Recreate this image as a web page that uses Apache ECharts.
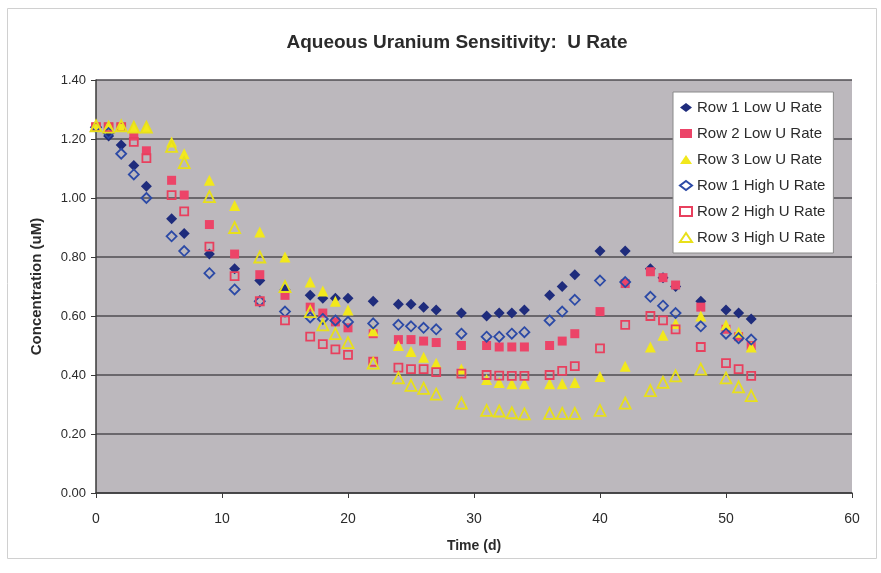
<!DOCTYPE html>
<html>
<head>
<meta charset="utf-8">
<script src="https://cdn.jsdelivr.net/npm/echarts@6/dist/echarts.min.js"></script>
<style>
  html, body { margin: 0; padding: 0; background: #ffffff; }
  #chart { width: 881px; height: 573px; }
</style>
</head>
<body>
<div id="chart"></div>
<script>
// Sampling days (d)
var days = [0, 1, 2, 3, 4, 6, 7, 9, 11, 13, 15, 17, 18, 19, 20, 22, 24, 25, 26, 27,
            29, 31, 32, 33, 34, 36, 37, 38, 40, 42, 44, 45, 46, 48, 50, 51, 52];

// Aqueous uranium concentration (uM) per monitoring row
var row1Low  = [1.24, 1.21, 1.18, 1.11, 1.04, 0.93, 0.88, 0.81, 0.76, 0.72, 0.69, 0.67, 0.66, 0.66, 0.66, 0.65, 0.64, 0.64, 0.63, 0.62,
                0.61, 0.60, 0.61, 0.61, 0.62, 0.67, 0.70, 0.74, 0.82, 0.82, 0.76, 0.73, 0.70, 0.65, 0.62, 0.61, 0.59];
var row2Low  = [1.24, 1.24, 1.24, 1.21, 1.16, 1.06, 1.01, 0.91, 0.81, 0.74, 0.67, 0.63, 0.61, 0.58, 0.56, 0.54, 0.52, 0.52, 0.515, 0.51,
                0.50, 0.50, 0.495, 0.495, 0.495, 0.50, 0.515, 0.54, 0.615, 0.71, 0.75, 0.73, 0.705, 0.63, 0.555, 0.53, 0.50];
var row3Low  = [1.245, 1.245, 1.245, 1.24, 1.24, 1.19, 1.15, 1.06, 0.975, 0.885, 0.80, 0.715, 0.685, 0.65, 0.62, 0.55, 0.50, 0.48, 0.46, 0.44,
                0.42, 0.385, 0.375, 0.37, 0.37, 0.37, 0.37, 0.375, 0.395, 0.43, 0.495, 0.535, 0.575, 0.60, 0.57, 0.545, 0.495];
var row1High = [1.24, 1.22, 1.15, 1.08, 1.00, 0.87, 0.82, 0.745, 0.69, 0.65, 0.615, 0.595, 0.59, 0.585, 0.58, 0.575, 0.57, 0.565, 0.56, 0.555,
                0.54, 0.53, 0.53, 0.54, 0.545, 0.585, 0.615, 0.655, 0.72, 0.715, 0.665, 0.635, 0.61, 0.565, 0.54, 0.525, 0.52];
var row2High = [1.24, 1.24, 1.24, 1.19, 1.135, 1.01, 0.955, 0.835, 0.735, 0.65, 0.585, 0.53, 0.505, 0.487, 0.468, 0.445, 0.425, 0.42, 0.42, 0.41,
                0.405, 0.40, 0.398, 0.397, 0.397, 0.40, 0.414, 0.43, 0.49, 0.57, 0.60, 0.585, 0.555, 0.495, 0.44, 0.42, 0.397];
var row3High = [1.245, 1.24, 1.245, 1.24, 1.24, 1.175, 1.12, 1.005, 0.90, 0.80, 0.70, 0.615, 0.57, 0.54, 0.51, 0.44, 0.39, 0.365, 0.355, 0.335,
                0.305, 0.28, 0.278, 0.272, 0.268, 0.27, 0.27, 0.27, 0.28, 0.305, 0.347, 0.375, 0.397, 0.42, 0.39, 0.36, 0.33];

var seriesNames = ['Row 1 Low U Rate', 'Row 2 Low U Rate', 'Row 3 Low U Rate',
                   'Row 1 High U Rate', 'Row 2 High U Rate', 'Row 3 High U Rate'];

function pairs(vals) {
  return days.map(function (d, i) { return [d, vals[i]]; });
}

var FONT = 'Liberation Sans, Arial, sans-serif';

function filled(name, vals, symbol, size, color) {
  return {
    name: name, type: 'scatter', data: pairs(vals),
    symbol: symbol, symbolSize: size,
    itemStyle: { color: color, opacity: 1 }
  };
}
function hollow(name, vals, symbol, size, color) {
  return {
    name: name, type: 'scatter', data: pairs(vals),
    symbol: symbol, symbolSize: size,
    itemStyle: { color: 'rgba(0,0,0,0)', borderColor: color, borderWidth: 1.8, opacity: 1 }
  };
}

var chart = echarts.init(document.getElementById('chart'), null, { renderer: 'canvas' });

chart.setOption({
  backgroundColor: '#ffffff',
  animation: false,
  title: {
    text: 'Aqueous Uranium Sensitivity:  U Rate',
    left: 452, top: 28, textAlign: 'center',
    textStyle: { fontFamily: FONT, fontWeight: 'bold', fontSize: 19, color: '#2b2b2b' }
  },
  graphic: [{
    type: 'rect', left: 5, top: 6, z: -1,
    shape: { width: 869, height: 550 },
    style: { fill: 'none', stroke: '#d0d0d0', lineWidth: 1 }
  }],
  grid: {
    left: 96, right: 29, top: 80, bottom: 80,
    show: true, backgroundColor: '#bcb8bd', borderWidth: 0
  },
  legend: {
    orient: 'vertical', left: 673, top: 92,
    backgroundColor: '#ffffff', borderColor: '#8a8a8a', borderWidth: 1,
    padding: [8, 8, 8, 6], itemGap: 11, itemWidth: 12, itemHeight: 9,
    textStyle: { fontFamily: FONT, fontSize: 15, color: '#2b2b2b' },
    data: seriesNames
  },
  xAxis: {
    type: 'value', min: 0, max: 60, interval: 10,
    name: 'Time (d)', nameLocation: 'middle', nameGap: 46,
    nameTextStyle: { fontFamily: FONT, fontWeight: 'bold', fontSize: 14, color: '#2b2b2b' },
    axisLine: { show: true, lineStyle: { color: '#3a3a3a', width: 1.5 } },
    axisTick: { show: true, inside: false, length: 5, lineStyle: { color: '#3a3a3a' } },
    axisLabel: { fontFamily: FONT, fontSize: 14, color: '#2b2b2b', margin: 19 },
    splitLine: { show: false }
  },
  yAxis: {
    type: 'value', min: 0, max: 1.4, interval: 0.2,
    name: 'Concentration (uM)', nameLocation: 'middle', nameGap: 52,
    nameTextStyle: { fontFamily: FONT, fontWeight: 'bold', fontSize: 15, color: '#2b2b2b' },
    axisLine: { show: true, lineStyle: { color: '#3a3a3a', width: 1.5 } },
    axisTick: { show: true, length: 5, lineStyle: { color: '#3a3a3a' } },
    axisLabel: { fontFamily: FONT, fontSize: 13, color: '#2b2b2b', margin: 10,
                 formatter: function (v) { return v.toFixed(2); } },
    splitLine: { show: true, lineStyle: { color: '#4f4d52', width: 1.5 } }
  },
  series: [
    filled(seriesNames[0], row1Low, 'diamond', 11, '#1f2c7c'),
    filled(seriesNames[1], row2Low, 'rect', 9, '#ec4468'),
    filled(seriesNames[2], row3Low, 'triangle', 11, '#f2e81c'),
    hollow(seriesNames[3], row1High, 'diamond', 10, '#2c4aa6'),
    hollow(seriesNames[4], row2High, 'rect', 8, '#e8405e'),
    hollow(seriesNames[5], row3High, 'triangle', 11, '#e8e01a')
  ]
});
</script>
</body>
</html>
